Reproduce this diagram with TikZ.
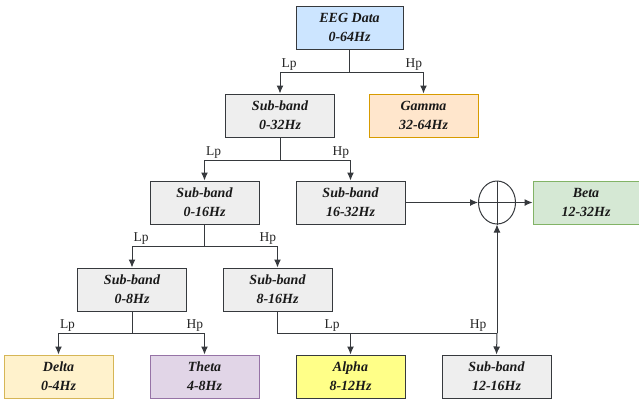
\documentclass[tikz,border=0pt]{standalone}
\usepackage{fontspec}
\setmainfont{Liberation Serif}
\usetikzlibrary{arrows.meta,shapes.geometric}
\definecolor{edgegray}{HTML}{36393D}
\definecolor{bandgray}{HTML}{EEEEEE}
\definecolor{eegblue}{HTML}{CCE5FF}
\definecolor{gammafill}{HTML}{FFE6CC}
\definecolor{gammaline}{HTML}{D79B00}
\definecolor{deltafill}{HTML}{FFF2CC}
\definecolor{deltaline}{HTML}{D6B656}
\definecolor{thetafill}{HTML}{E1D5E7}
\definecolor{thetaline}{HTML}{9673A6}
\definecolor{alphafill}{HTML}{FFFF88}
\definecolor{betafill}{HTML}{D5E8D4}
\definecolor{betaline}{HTML}{82B366}
\begin{document}
\begin{tikzpicture}[x=1pt,y=-1pt,
		band/.style={draw=edgegray,fill=bandgray,line width=1pt,minimum width=109pt,minimum height=43pt,
			align=center,font=\fontsize{14}{19}\selectfont\bfseries\itshape,text=black!90,inner sep=0pt},
		wire/.style={draw=edgegray,line width=1pt},
		arr/.style={wire,-{Latex[length=8pt,width=7pt]}},
		lbl/.style={font=\fontsize{13.5}{15}\selectfont,text=black!85,inner sep=1pt}]
	\useasboundingbox (0,0) rectangle (639,400);

	\node[band,fill=eegblue,minimum width=107pt] (eeg) at (349.5,27.5) {EEG Data\\0-64Hz};
	\node[band] (sb32) at (280,115.5) {Sub-band\\0-32Hz};
	\node[band,draw=gammaline,fill=gammafill] (gamma) at (423.5,115.5) {Gamma\\32-64Hz};
	\node[band] (sb16) at (204.5,202.5) {Sub-band\\0-16Hz};
	\node[band] (sb1632) at (350.5,202.5) {Sub-band\\16-32Hz};
	\node[draw=edgegray,line width=1pt,ellipse,minimum width=37pt,minimum height=43pt,inner sep=0pt] (sum) at (497,202.5) {};
	\node[band,draw=betaline,fill=betafill,minimum width=106pt] (beta) at (586,202.5) {Beta\\12-32Hz};
	\node[band] (sb8) at (132,289.5) {Sub-band\\0-8Hz};
	\node[band] (sb816) at (277.5,289.5) {Sub-band\\8-16Hz};
	\node[band,draw=deltaline,fill=deltafill] (delta) at (58.5,376.5) {Delta\\0-4Hz};
	\node[band,draw=thetaline,fill=thetafill] (theta) at (204.5,376.5) {Theta\\4-8Hz};
	\node[band,fill=alphafill] (alpha) at (350.5,376.5) {Alpha\\8-12Hz};
	\node[band] (sb1216) at (496.5,376.5) {Sub-band\\12-16Hz};

	\coordinate (j1) at (349.5,72);
	\coordinate (j2) at (280,160);
	\coordinate (j3) at (204.5,246);
	\coordinate (j4) at (132,333);
	\coordinate (j5) at (277.5,333);
	\coordinate (j6) at (497,333);

	\draw[wire] (sum.north) -- (sum.south);
	\draw[wire] (sum.west) -- (sum.east);

	\foreach \top/\j/\lo/\hi in {eeg/j1/sb32/gamma, sb32/j2/sb16/sb1632, sb16/j3/sb8/sb816, sb8/j4/delta/theta}{
		\draw[wire] (\top.south) -- (\j);
		\draw[arr] (\j) -| node[lbl,above right] {Lp} (\lo.north);
		\draw[arr] (\j) -| node[lbl,above left] {Hp} (\hi.north);
	}

	\draw[wire] (sb816.south) -- (j5) -- (j6);
	\draw[arr] (j5 -| alpha.north) -- (alpha.north);
	\draw[arr] (j6) -- (sb1216.north);
	\draw[arr] (j6) -- (sum.south);
	\node[lbl,above] (lp5) at (332,333) {Lp};
	\node[lbl,above] (hp5) at (478,333) {Hp};

	\draw[arr] (sb1632.east) -- (sum.west);
	\draw[arr] (sum.east) -- (beta.west);
\end{tikzpicture}
\end{document}
